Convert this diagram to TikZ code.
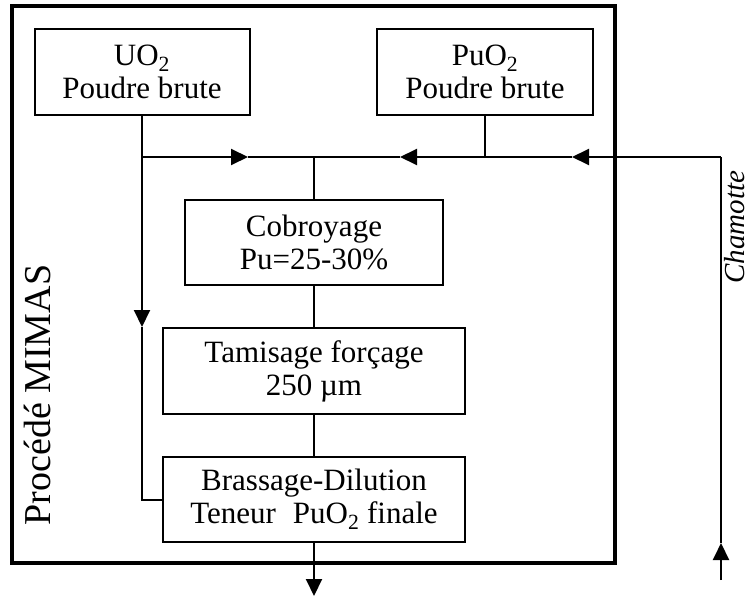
\documentclass[tikz,border=0pt]{standalone}
\usepackage{fontspec}
\setmainfont{Liberation Serif}
\usetikzlibrary{arrows.meta}
\tikzset{
    stage/.style={draw, line width=2pt, align=center, inner sep=0pt,
        font=\fontsize{31}{33}\selectfont},
    flow/.style={line width=2pt},
    flowarrow/.style={line width=2pt, -{Triangle[length=17pt, width=16pt]}},
}

\begin{document}
\begin{tikzpicture}[x=1pt, y=-1pt]
    \useasboundingbox (0, 0) rectangle (751, 596);
    % Process frame
    \draw[line width=4.5pt] (12, 6) rectangle (615, 563);
    \node[rotate=90, anchor=base, inner sep=0pt, font=\fontsize{38}{40}\selectfont] (mimas) at (50, 395) {Procédé MIMAS};
    % Raw powders
    \node[stage, minimum width=215pt, minimum height=86pt] (uo) at (142, 72)
        {UO\textsubscript{2}\\Poudre brute};
    \node[stage, minimum width=216pt, minimum height=86pt] (puo) at (485, 72)
        {PuO\textsubscript{2}\\Poudre brute};
    % Process steps
    \node[stage, minimum width=258pt, minimum height=85pt] (cob) at (314, 242.5)
        {Cobroyage\\Pu=25-30\%};
    \node[stage, minimum width=302pt, minimum height=86pt] (tam) at (314, 371)
        {Tamisage forçage\\250 µm};
    \node[stage, minimum width=302pt, minimum height=85pt] (bra) at (314, 499.5)
        {Brassage-Dilution\\Teneur\hspace{0.3em} PuO\textsubscript{2} finale};
    % Junction points
    \coordinate (jl) at (142, 157);
    \coordinate (jm) at (cob.north |- jl);
    \coordinate (jp) at (puo.south |- jl);
    \coordinate (ch) at (721, 157);
    \coordinate (chb) at (721, 580);
    \coordinate (out) at (cob.north |- 0, 596);
    % Mixing line
    \draw[flow] (uo.south) -- (jl);
    \draw[flow] (puo.south) -- (jp);
    \draw[flowarrow] (jl) -- (248, 157);
    \draw[flow] (248, 157) -- (jm);
    \draw[flowarrow] (jp) -- (400, 157);
    \draw[flow] (400, 157) -- (jm);
    \draw[flowarrow] (ch) -- (572, 157);
    \draw[flow] (572, 157) -- (jp);
    \draw[flow] (jm) -- (cob.north);
    \draw[flow] (cob.south) -- (tam.north);
    \draw[flow] (tam.south) -- (bra.north);
    % UO2 dilution branch
    \draw[flowarrow] (jl) -- (142, 327);
    \draw[flow] (142, 327) |- (bra.west);
    % Output
    \draw[flowarrow] (bra.south) -- (out);
    % Recycled scrap
    \draw[flowarrow] (chb) -- (721, 543);
    \draw[flow] (721, 543) -- (ch);
    \node[rotate=90, anchor=base, inner sep=0pt, font=\fontsize{29}{31}\selectfont\itshape] (cham) at (744, 227) {Chamotte};
\end{tikzpicture}
\end{document}
